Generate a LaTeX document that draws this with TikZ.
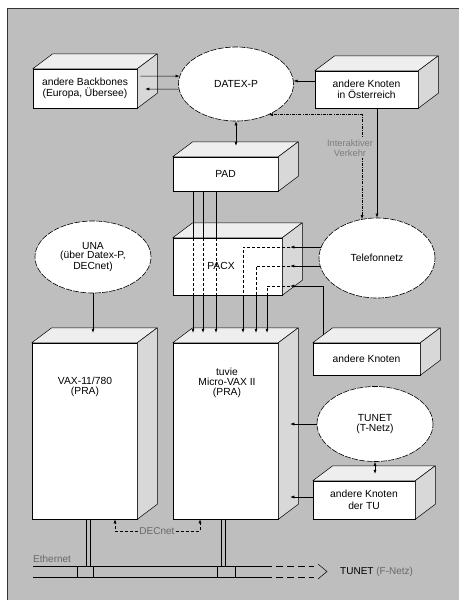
\documentclass[tikz,border=0pt]{standalone}
\usepackage{fontspec}
\setmainfont{Liberation Sans}
\usetikzlibrary{shapes.geometric,arrows.meta,calc}
\definecolor{bg}{RGB}{190,190,190}
\definecolor{topc}{RGB}{238,238,238}
\definecolor{sidec}{RGB}{216,216,216}
\definecolor{lbl}{RGB}{105,105,105}
\definecolor{lbl2}{RGB}{125,125,125}
\tikzset{
  front/.style={draw, fill=white, line width=0.5pt, inner sep=0pt, align=center, font=\fontsize{10.3}{11.5}\selectfont},
  topface/.style={draw, fill=topc, line width=0.5pt, line join=round},
  sideface/.style={draw, fill=sidec, line width=0.5pt, line join=round},
  cloud/.style={ellipse, draw, fill=white, line width=0.6pt, dash pattern=on 6pt off 1.3pt, inner sep=0pt, align=center, font=\fontsize{10.3}{9.5}\selectfont},
  plain/.style={align=center, inner sep=0pt, font=\fontsize{10.3}{9.8}\selectfont},
  conn/.style={line width=0.5pt},
  tip/.style={-{Latex[length=4pt,width=3pt]}},
  bitip/.style={{Latex[length=4pt,width=3pt]}-{Latex[length=4pt,width=3pt]}},
  hid/.style={dash pattern=on 3pt off 2pt},
  dashdotline/.style={dash pattern=on 3pt off 1.2pt on 0.8pt off 1.2pt},
  greytext/.style={text=lbl, inner sep=1pt, align=center},
}
\newcommand\cuboid[5]{%
  \node[front, minimum width=#3pt, minimum height=#4pt] (#1) at (#2) {#5};
  \filldraw[topface] (#1.north west) -- ++(20,-15) -- ($(#1.north east)+(20,-15)$) -- (#1.north east) -- cycle;
  \filldraw[sideface] (#1.north east) -- ++(20,-15) -- ($(#1.south east)+(20,-15)$) -- (#1.south east) -- cycle;
}
\begin{document}
\begin{tikzpicture}[x=1pt,y=-1pt]
\useasboundingbox (0,0) rectangle (459,600);
\fill[white] (0,0) rectangle (459,600);
\fill[bg] (7,8) rectangle (459,600);
\draw[line width=0.6pt, gray!40!black] (7,600) -- (7,8) -- (459,8);

% clouds
\node[cloud, minimum width=115pt, minimum height=74pt] (datex) at (236,84) {DATEX-P};
\node[cloud, minimum width=116pt, minimum height=72pt] (una) at (93,257) {UNA\\(über Datex-P,\\DECnet)};
\node[cloud, minimum width=116pt, minimum height=80pt] (tel) at (377,258) {Telefonnetz};
\node[cloud, minimum width=116pt, minimum height=75pt] (tunet) at (375,424) {TUNET\\(T-Netz)};

% boxes
\cuboid{bb}{85,88.5}{104}{39}{andere Backbones\\(Europa, Übersee)}
\cuboid{oest}{366.5,89.5}{103}{37}{andere Knoten\\in Österreich}
\cuboid{pad}{225.5,174}{105}{34}{PAD}
\cuboid{pacx}{227.5,266.5}{109}{57}{}
\cuboid{vax}{84.5,431}{105}{176}{}
\cuboid{tuvie}{225.5,431}{105}{176}{}
\cuboid{ak}{366.5,359}{107}{32}{andere Knoten}
\cuboid{dertu}{364,500}{102}{38}{andere Knoten\\der TU}

\node[plain] (pacxl) at (221,266) {PACX};
\node[plain] (vaxl) at (85,387) {VAX-11/780\\(PRA)};
\node[plain] (tuviel) at (227,383) {tuvie\\Micro-VAX II\\(PRA)};

% top connectors
\draw[conn,tip] ($(bb.east)+(3,-12.5)$) -- (datex.172);
\draw[conn,tip] (datex.185) -- ($(bb.east)+(8,0.5)$);
\draw[conn,tip] (oest.west |- datex.3) -- (datex.3);
\coordinate (padtop) at ($(pad.north)+(10.5,-11)$);
\draw[conn,bitip] (datex.south) -- (padtop);
\draw[conn,tip] (oest.south -| tel.north) -- (tel.north);
\draw[conn,dashdotline,bitip] (tel.111) |- (datex.-43);
\node[greytext, text=lbl2, fill=bg, font=\fontsize{9.3}{10.5}\selectfont] (ik) at (350,148) {Interaktiver\\Verkehr};

% PAD - PACX - tuvie
\coordinate (tvtop) at ($(tuvie.north)+(0,-10)$);
\coordinate (v1) at ($(pad.south)+(-32.5,0)$);
\coordinate (v2) at ($(pad.south)+(-22.5,0)$);
\coordinate (v3) at ($(pad.south)+(-9.5,0)$);
\foreach \i in {1,2,3} {
  \draw[conn] (v\i) -- (v\i |- pacx.north);
  \draw[conn,hid] (v\i |- pacx.north) -- (v\i |- pacx.south);
  \draw[conn,tip] (v\i |- pacx.south) -- (v\i |- tvtop);
}

% Telefonnetz / andere Knoten - PACX - tuvie
\coordinate (h1) at ($(pacx.east |- tel.169)+(8,0)$);
\coordinate (h2) at ($(pacx.east |- tel.188)+(8,0)$);
\coordinate (h3) at ($(pacx.east)+(8,19.5)$);
\coordinate (d1) at ($(pacx.south)+(15.5,0)$);
\coordinate (d2) at ($(pacx.south)+(28.5,0)$);
\coordinate (d3) at ($(pacx.south)+(39.5,0)$);
\draw[conn,tip] (tel.169) -- (h1);
\draw[conn,tip] (tel.188) -- (h2);
\draw[conn,tip] ($(ak.north west)+(10,-7.5)$) |- (h3);
\foreach \i in {1,2,3} {
  \draw[conn,hid] (h\i) -| (d\i);
  \draw[conn,tip] (d\i) -- (d\i |- tvtop);
}

% UNA - VAX
\coordinate (vaxtop) at ($(vax.north)+(0,-10)$);
\draw[conn,tip] (una.south) -- (una.south |- vaxtop);

% right side to tuvie
\draw[conn,tip] (tunet.west) -- ($(tunet.west -| tuvie.east)+(12,0)$);
\coordinate (tuin) at ($(dertu.west)+(0,-3)$);
\draw[conn,tip] (tuin) -- ($(tuin -| tuvie.east)+(12,0)$);
\coordinate (dertop) at ($(tunet.south |- dertu.north)+(0,-7)$);
\draw[conn,bitip] (tunet.south) -- (dertop);

% DECnet
\node[greytext, font=\fontsize{10}{11}\selectfont] (dec) at (157,531) {DECnet};
\draw[conn,hid,tip] (dec.west) -| ($(vax.south)+(30.5,0)$);
\draw[conn,hid,tip] (dec.east) -| ($(tuvie.south)+(-25.5,0)$);

% Ethernet
\node[greytext, font=\fontsize{10}{11}\selectfont, anchor=south west, inner sep=0pt] (eth) at (33,563) {Ethernet};
\coordinate (ea) at (33,566);
\coordinate (eb) at (33,577);
\coordinate (ea2) at (265,566);
\coordinate (eb2) at (265,577);
\coordinate (ea3) at (314,566);
\coordinate (eb3) at (314,577);
\draw[conn] (ea) -- (ea2);
\draw[conn] (eb) -- (eb2);
\draw[conn, dash pattern=on 7pt off 4pt] (ea2) -- (ea3);
\draw[conn, dash pattern=on 7pt off 4pt] (eb2) -- (eb3);
\draw[conn] (318,564) -- (327,571.5) -- (318,579);
\node[anchor=west, inner sep=0pt, font=\fontsize{10}{11}\selectfont] (tnl) at (340,572) {TUNET \textcolor{lbl}{(F-Netz)}};

% drops to Ethernet
\coordinate (x1) at ($(vax.south)+(1.5,0)$);
\coordinate (x2) at ($(vax.south)+(5.5,0)$);
\coordinate (x3) at ($(tuvie.south)+(-4.5,0)$);
\coordinate (x4) at ($(tuvie.south)+(-0.5,0)$);
\foreach \i in {1,2,3,4} { \draw[conn] (x\i) -- (x\i |- ea); }
\draw[conn] (77,566) rectangle (93,577);
\draw[conn] (217,566) rectangle (235,577);
\end{tikzpicture}
\end{document}
